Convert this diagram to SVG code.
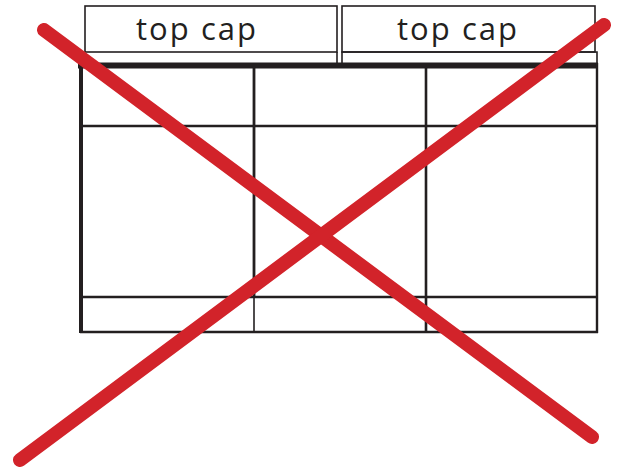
<svg xmlns="http://www.w3.org/2000/svg" width="621" height="469" viewBox="0 0 621 469">
<style>
.ln{fill:none;stroke:#231f20;stroke-width:2.4}
.thin{fill:none;stroke:#231f20;stroke-width:1.6}
.cap{font-family:"Open Sans","Liberation Sans",sans-serif;font-size:31px;fill:#231f20;text-anchor:middle}
.x{stroke:#d2232a;stroke-width:14;stroke-linecap:round;fill:none}
</style>
<rect width="621" height="469" fill="#fff"/>
<g id="cap1">
<rect class="thin" x="85" y="6" width="252" height="46"/>
<line class="thin" x1="337" y1="52" x2="337" y2="63"/>
<text class="cap" x="196" y="40" textLength="120" lengthAdjust="spacing">top cap</text>
</g>
<g id="cap2">
<rect class="thin" x="342" y="6" width="253" height="46"/>
<polyline class="thin" points="342,63 342,52 597,52 597,63"/>
<text class="cap" x="457" y="40" textLength="120" lengthAdjust="spacing">top cap</text>
</g>
<g id="table">
<line x1="78" y1="65.5" x2="598" y2="65.5" stroke="#231f20" stroke-width="6"/>
<line x1="81" y1="63" x2="81" y2="333" stroke="#231f20" stroke-width="4"/>
<line class="ln" x1="597" y1="63" x2="597" y2="333"/>
<line class="ln" x1="80" y1="332" x2="598" y2="332"/>
<line class="ln" x1="80" y1="126" x2="597" y2="126"/>
<line class="ln" x1="80" y1="297" x2="597" y2="297"/>
<line x1="254" y1="67" x2="254" y2="297" stroke="#231f20" stroke-width="2.8"/>
<line class="thin" x1="254" y1="297" x2="254" y2="332"/>
<line x1="426" y1="67" x2="426" y2="332" stroke="#231f20" stroke-width="2.6"/>
</g>
<g id="cross">
<line class="x" x1="44" y1="30" x2="592" y2="437"/>
<line class="x" x1="20" y1="460" x2="604" y2="25"/>
</g>
</svg>
